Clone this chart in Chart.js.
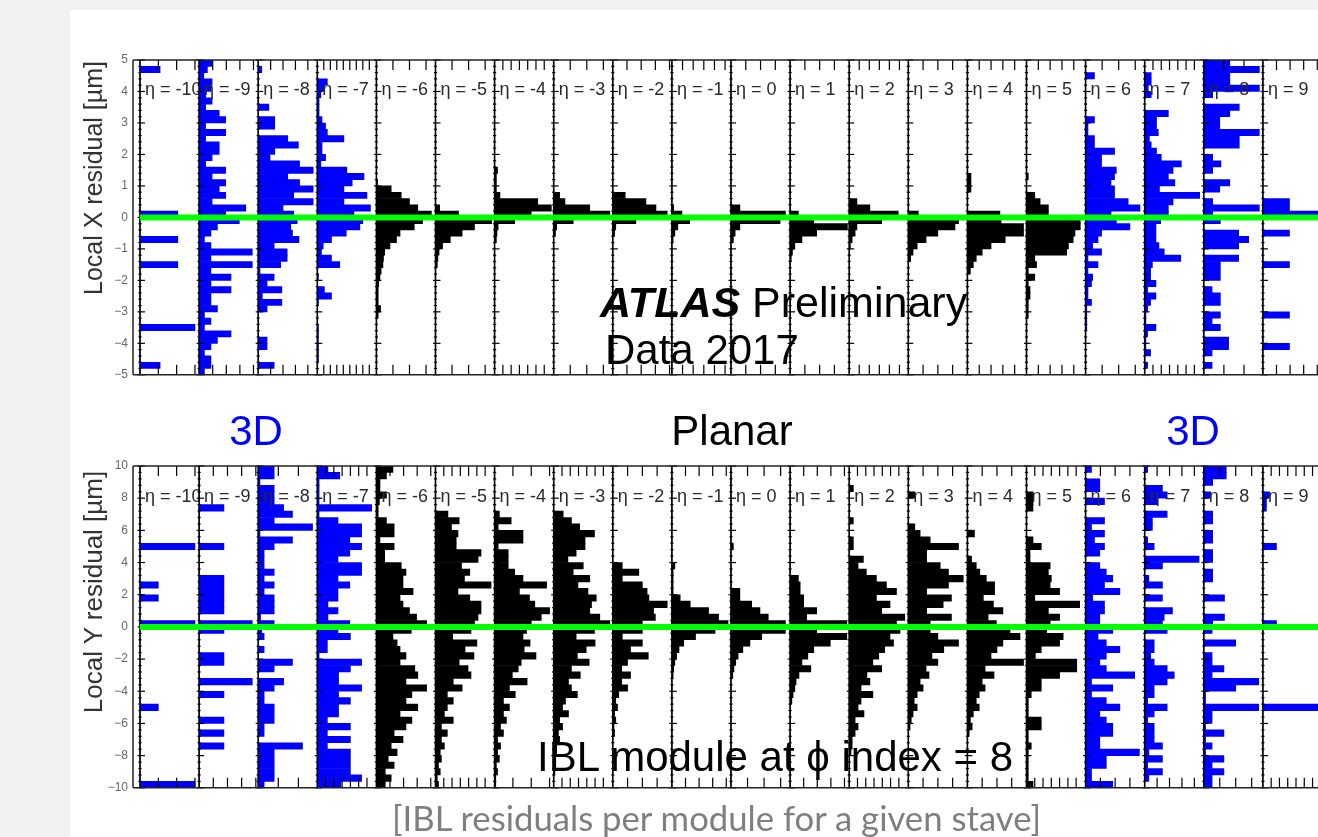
<!DOCTYPE html>
<html>
<head>
<meta charset="utf-8">
<script src="https://cdn.jsdelivr.net/npm/chart.js@4.4.0/dist/chart.umd.min.js"></script>
<style>
  html, body { margin: 0; padding: 0; width: 1318px; height: 837px; overflow: hidden; background: #f2f2f2; }
  body { position: relative; font-family: "Liberation Sans", Arial, sans-serif; }
  #sheet { position: absolute; left: 70px; top: 10px; width: 1248px; height: 827px; background: #fff; }
  .pane { position: absolute; left: 70px; width: 1262px; }
  #topPane { top: 40px; height: 347px; }
  #botPane { top: 446px; height: 354px; }
  .txt { position: absolute; white-space: nowrap; line-height: 1; color: #000; }
  .big { font-size: 42px; }
  .blue { color: #0000ff; }
  .ytitle { position: absolute; color: #333; white-space: nowrap; line-height: 1;
            transform: translate(-50%, -50%) rotate(-90deg); }
  #caption { position: absolute; left: 392px; top: 801px; font-family: Lato, "Open Sans", sans-serif;
             font-size: 34.7px; color: #7f7f7f; white-space: nowrap; line-height: 1; }
</style>
</head>
<body>
<div id="sheet"></div>
<div class="pane" id="topPane"><canvas id="topChart"></canvas></div>
<div class="pane" id="botPane"><canvas id="botChart"></canvas></div>

<div class="ytitle" style="left:93px; top:178px; font-size:25px;">Local X residual [µm]</div>
<div class="ytitle" style="left:93px; top:592px; font-size:26px;">Local Y residual [µm]</div>

<div class="txt" style="left:600px; top:281px; font-size:43px;"><b><i>ATLAS</i></b> Preliminary</div>
<div class="txt big" style="left:605px; top:329px;">Data 2017</div>
<div class="txt big blue" style="left:206px; width:100px; text-align:center; top:410px;">3D</div>
<div class="txt big" style="left:632px; width:200px; text-align:center; top:410px;">Planar</div>
<div class="txt big blue" style="left:1143px; width:100px; text-align:center; top:410px;">3D</div>
<div class="txt big" style="left:537px; top:736px;">IBL module at ϕ index = 8</div>
<div id="caption">[IBL residuals per module for a given stave]</div>

<script>
// module labels, left to right
const etaLabels = ["η = -10", "η = -9", "η = -8", "η = -7", "η = -6", "η = -5", "η = -4", "η = -3", "η = -2", "η = -1",
                   "η = 0", "η = 1", "η = 2", "η = 3", "η = 4", "η = 5", "η = 6", "η = 7", "η = 8", "η = 9"];
// sensor type of each module
const sensorType = ["3D", "3D", "3D", "3D", "Planar", "Planar", "Planar", "Planar", "Planar", "Planar",
                    "Planar", "Planar", "Planar", "Planar", "Planar", "Planar", "3D", "3D", "3D", "3D"];

// Local X residual histograms: 50 bins of 0.2 um, listed from +5 down to -5 (entries, 10 = full pad width)
const locX_m10 = [0,3.4,0,0,0,0,0,0,0,0, 0,0,0,0,0,0,0,0,0,0, 0,0,0,0,6.4,0,0,0,6.4,0, 0,0,6.4,0,0,0,0,0,0,0, 0,0,9.3,0,0,0,0,0,3.4,0];
const locX_m9 = [2.2,1.4,0.8,2.2,2,1.1,2.2,1.1,3.4,4.5, 1.1,4.5,1.1,3.4,3.4,2.2,1.1,4.5,2.2,4.5, 3.4,4.5,2.2,7.9,4.5,6.8,3.1,2,0.9,2, 9,2,9,2,5.4,2,5.4,2,2,3.1, 0.9,2,0.9,5.4,3.1,2,0.9,2,2,0.9];
const locX_m8 = [0,0.6,0,0,0,0,0,1.8,0,2.8, 2.8,0,5,6.8,2.8,2,7,9.3,5,7, 9.3,6,9.3,4.2,6,6.6,5.5,5.8,6.9,2.7, 4.9,4.9,3.8,0.3,2.7,1.5,4,0.7,4,1.5, 0,0,0,0,1.5,1.5,0,0,2.7,0];
const locX_m7 = [0,0,0,1.7,1.1,0.6,0.3,0.3,0.3,0.8, 1.4,1.7,4.5,0.8,0.8,1.4,0.6,5,7.9,5.9, 4.5,8.4,4.5,9,6.2,7.7,7.2,4.9,2.4,1, 0.7,2.4,3.8,0,0.2,0,1.2,2.4,0.2,0, 0,0,0.2,0.2,0.2,0.2,0.2,0.2,0,0];
const locX_m6 = [0,0,0,0,0,0,0,0,0,0, 0,0,0,0,0,0,0,0,0,0.2, 2.5,4.2,5.6,7,9.3,7.8,6.4,4,3.4,2.3, 1.4,1.2,1.1,0.8,0.6,0.4,0.3,0.3,0.3,0.7, 0.3,0,0,0,0,0,0,0,0,0];
const locX_m5 = [0,0,0,0,0,0,0,0,0,0, 0,0,0,0,0,0,0,0,0,0, 0,0,0,0.7,3.9,9.5,6.6,4.5,2.5,1.2, 0.6,0.4,0.3,0,0,0,0,0,0,0, 0,0,0,0,0,0,0,0,0,0];
const locX_m4 = [0,0,0,0,0,0,0,0,0,0, 0,0,0,0,0,0,0,0.5,0.3,0.3, 0.3,0.9,7.3,9.6,6.2,3.4,0.6,0.4,0.3,0, 0,0,0,0,0,0,0,0,0,0, 0,0,0,0,0,0,0,0,0,0];
const locX_m3 = [0,0,0,0,0,0,0,0,0,0, 0,0,0,0,0,0,0,0,0,0, 0,1,1.9,6.1,9.5,3.3,0.5,0.3,0,0, 0,0,0,0,0,0,0,0,0,0, 0,0,0,0,0,0,0,0,0,0];
const locX_m2 = [0,0,0,0,0,0,0,0,0,0, 0,0,0,0,0,0,0,0,0,0, 0,2.1,5.6,7.3,9.2,3.9,0.5,0.3,0,0, 0,0,0,0,0,0,0,0,0,0, 0,0,0,0,0,0,0,0,0,0];
const locX_m1 = [0,0,0,0,0,0,0,0,0,0, 0,0,0,0,0,0,0,0,0,0, 0,0,0,0.3,1.7,3,1,0.5,0.2,0, 0,0,0,0,0,0,0,0,0,0, 0,0,0,0,0,0,0,0,0,0];
const locX_0 = [0,0,0,0,0,0,0,0,0,0, 0,0,0,0,0,0,0,0,0,0, 0,0,0,1.5,9.2,8.3,1.5,0.7,0.4,0, 0,0,0,0,0,0,0,0,0,0, 0,0,0,0,0,0,0,0,0,0];
const locX_p1 = [0,0,0,0,0,0,0,0,0,0, 0,0,0,0,0,0,0,0,0,0, 0,0,0,0,1.4,4,9.7,4.5,2,0.8, 0.4,0.2,0,0,0,0,0,0,0,0, 0,0,0,0,0,0,0,0,0,0];
const locX_p2 = [0,0,0,0,0,0,0,0,0,0, 0,0,0,0,0,0,0,0,0,0, 0,0,1.3,3.5,8.3,5.5,1.3,1,0.5,0.2, 0,0,0,0,0,0,0,0,0,0, 0,0,0,0,0,0,0,0,0,0];
const locX_p3 = [0,0,0,0,0,0,0,0,0,0, 0,0,0,0,0,0,0,0,0,0, 0,0,0,0,1.7,8.5,7.9,5,3,1.5, 0.8,0.4,0,0,0,0,0,0,0,0, 0,0,0,0,0,0,0,0,0,0];
const locX_p4 = [0,0,0,0,0,0,0,0,0,0, 0,0,0,0,0,0,0,0,0.6,0.6, 0.6,0,0,0,5.5,5.7,9.5,9.5,6.4,4, 2.5,1.5,1,0.5,0,0,0,0,0,0, 0,0,0,0,0,0,0,0,0,0];
const locX_p5 = [0,0,0,0,0,0,0,0,0,0, 0,0,0,0,0,0,0,0,0.3,0, 0,1.4,2.3,3.7,3.7,9.1,9.1,8.2,7.9,7.1, 6.8,1.4,1.7,0.3,1.4,0.3,0.6,0.6,0.3,0.3, 0.3,0,0,0,0,0,0,0,0,0];
const locX_p6 = [0,0,1.5,0,0,0,0,0,0,1.5, 0.4,0.4,1.5,1.5,4.9,2.7,2.7,5.2,4.9,4.3, 4.9,4.9,7.2,9.2,4.3,5.2,7.5,2.7,2.1,1.2, 2.7,0.4,2.1,0.4,1.2,1,0.4,0.4,1,0.2, 0.2,0.2,0.2,0,0,0,0,0,0,0];
const locX_p7 = [0,0,1.1,1.1,0.6,1.1,0,0,4,2, 2,2.3,0.8,1.1,2,2.8,6.2,4.8,4,5.1, 2.5,9.3,4.8,4,4,2.7,1.9,1.9,1.9,2.4, 3.3,6.1,1.3,1,1,1.9,0.5,1.9,1,0.5, 0.2,0.2,1.9,0.5,0.2,0.2,1,0,0.5,0];
const locX_p8 = [4.4,9.4,4.4,4.4,9.4,1.5,0,6,4.4,2.7, 2.7,9.4,6,6,0,1.5,2.9,1.5,0,4.4, 2.7,0,1.5,9.4,1.5,2.8,0,5.9,7.6,5.9, 0,5.9,2.8,2.8,2.8,0,1.4,2.8,2.8,0, 2.8,1.4,2.8,0,4.2,4.2,1.4,0,1.4,0];
const locX_p9 = [0,0,0,0,0,0,0,0,0,0, 0,0,0,0,0,0,0,0,0,0, 0,0,4.5,4.5,10,0,0,4.5,0,0, 0,0,4.5,0,0,0,0,0,0,0, 4.5,0,0,0,0,4.5,0,0,0,0];

// Local Y residual histograms: 50 bins of 0.4 um, listed from +10 down to -10
const locY_m10 = [0,0,0,0,0,0,0,0,0,0, 0,0,9.3,0,0,0,0,0,3.1,0, 3.1,0,0,0,9.3,0,0,0,0,0, 0,0,0,0,0,0,0,3.1,0,0, 0,0,0,0,0,0,0,0,0,9.3];
const locY_m9 = [0,0,0,0,0,0,4.2,0,0,0, 0,0,4.2,0,0,0,0,4.2,4.2,4.2, 4.2,4.2,4.2,0,9,4.2,0,0,0,4.2, 4.2,0,0,9,0,4.2,0,0,0,4.2, 0,4.2,0,4.2,0,0,0,0,0,0];
const locY_m8 = [2.7,2.7,0.3,2.7,2.7,2.7,4.3,5.8,2.7,9.2, 0.3,5.8,2.7,1,1,1,2.7,1,2.7,1, 2.7,2.7,2.7,0.4,2.7,0.6,1,0,1,0, 5.8,2.7,0,4.3,2.7,1,1,2.7,2.7,2.7, 1,1,0,7.5,2.7,2.7,2.7,2.7,2.7,1];
const locY_m7 = [1.8,3.8,0.3,0.3,0.3,0.3,9.2,0.3,3.5,7.5, 7.5,5.5,7.5,5.5,3.5,7.5,7.5,3.5,5.5,3.5, 3.5,1.8,3.5,1.8,5.5,3.5,5.6,1.7,1.7,0.3, 7.5,5.6,3.6,3.6,7.5,3.6,5.6,3.6,3.6,1.7, 5.6,1.7,5.6,1.7,5.6,5.6,5.6,5.6,7.5,4];
const locY_m6 = [2.8,1.7,0.6,0.6,1.7,0.5,0.3,0.3,1.7,3, 3,0.6,3,1.4,1.4,4.2,5,4.5,4.5,6.2, 4,4.5,5.6,6.8,8.5,5.9,2.8,3.5,4,5, 4,6.5,7,5,8.5,6,5,7,4,6, 5,3,4.5,2.5,3.5,2,3,1.5,2.5,1.5];
const locY_m5 = [0,0,0,0,0,0,0,2.1,4,2.7, 3.8,3.5,3.5,7.7,7.2,4.4,5.8,4.9,9.4,3.8, 5.8,7.7,7.7,7.2,6.6,6,2.9,7,5,6.5, 4,5.5,6,3,4.5,2,3,2,1.5,3, 1,2,1,1.5,0.8,1,0.5,0.8,0.3,0.5];
const locY_m4 = [0,0,0,0,0,0,0,0.8,2.8,0.6, 4.8,4.8,0.6,2.3,2.3,2.3,3.4,4.8,8.8,4.2, 5.9,6.8,9.3,7.9,6.2,5.4,4.8,6,5,7, 4.5,4,3,5.5,2.5,3.5,1.5,2.5,1.5,2, 1,1.5,0.5,1,0.5,0.8,0.3,0.5,0.2,0.2];
const locY_m3 = [0,0,0,0,0,0,0,1.6,3,4.4, 6.9,5.3,5.3,3.8,2.4,5,3.3,6.1,4.1,5.8, 7.2,6.4,6.1,7.8,9.5,6.9,3.8,7,5.5,4, 6,3,4.5,2.5,3,4,2,1.5,2.5,1, 1.5,0.8,1,0.5,0.5,0.3,0.3,0.2,0,0];
const locY_m2 = [0,0,0,0,0,0,0,0,0,0, 0,0,0,0,0,1.6,4.4,1.6,5,5.8, 6.1,9.2,6.9,7.2,5,5,1.6,5,3,6, 2.5,1.5,3,1.5,2.5,1,0.5,0.8,0.3,0.5, 0.2,0.3,0,0,0,0,0,0,0,0];
const locY_m1 = [0,0,0,0,0,0,0,0,0,0, 0,0,0,0,0,0.5,0.2,0.2,0.2,0.2, 1.4,3.1,6.2,7.9,9.5,7.3,4,2,1.2,0.8, 0.5,0.3,0.2,0,0,0,0,0,0,0, 0,0,0,0,0,0,0,0,0,0];
const locY_0 = [0,0,0,0,0,0,0,0,0,0, 0,0,0.4,0,0,0,0,0,0,1.5, 1.5,3.5,4.9,6.3,9.2,9.2,5.2,3.2,2,1.2, 0.8,0.5,0.3,0,0,0,0,0,0,0, 0,0,0,0,0,0,0,0,0,0];
const locY_p1 = [0,0,0,0,0,0,0,0,0,0, 0,0,0,0,0,0,0,1.4,1.7,1.7, 2.3,2.3,4.5,2.8,9.6,4.5,9.6,6.8,4,3, 2,3.5,1.5,1,0.8,0.5,0.3,0,0,0, 0,0,0,0,0,0,0,0,0,0];
const locY_p2 = [0,0,0,0.7,0,0,0,0,0.7,0, 0,0.7,0.7,0,2.4,1.5,2.9,4.6,6.3,8, 4.6,6.9,5.5,9.4,8,8.6,6.9,7.5,6,5, 4,5.5,3,3.5,2,4,2,1.5,2.5,1, 1.5,1,0.5,0.5,0.3,0,0,0,0,0];
const locY_p3 = [0,0,0,0,1.1,0,0,0,0,1.1, 2,3.7,8.5,3.1,3.1,5.4,6.8,9.3,6.8,3.1, 7.3,5.9,3.1,7.3,3.7,3.7,5,8.5,6,4, 5,3,3.5,2,2.5,1.5,1,1.5,0.8,0.5, 0.3,0,0,0,0,0,0,0,0,0];
const locY_p4 = [0,0,0,0,0,0,0,0,0,0, 1.2,0,0,0,0.7,1.5,2.1,3.2,4.6,4.6, 2.7,4.4,6,3.5,4.9,7.2,8.9,6,5,4, 9.5,3,4.5,2.5,3,2,1.5,2,1,0.5, 0.8,0.3,0,0,0,0,0,0,0,0];
const locY_p5 = [0,0,0,0,1.1,1.1,1.1,0,0,0, 0,1.1,2.5,0.6,0.6,4,3.7,4.2,4,5.6, 1.4,9,3.7,5.6,4,3.4,6.2,5.6,2.5,1.5, 8.5,8.5,5.6,2.5,2.5,0.8,0.3,0.3,0.3,2.5, 2.5,0.3,0.3,0.8,0.3,0.3,0.3,0.3,0.3,1.1];
const locY_p6 = [1,0,2.4,2.4,0,3.2,0,0,3.2,1, 3.2,1.5,3.2,2.4,0,2.4,3.5,4.6,3.2,5.8, 1.2,3.2,3.2,2.4,2.4,4.6,2.1,3.5,5.8,3.5, 2.4,3.5,8.3,1,4.6,1,3.5,5.8,2.4,3.5, 4.6,4.6,2.4,2.4,9.1,3.5,3.5,1,1,4.6];
const locY_p7 = [0.5,0,0,3,3.8,2.1,0,3.8,1.3,1.3, 0,0.5,1.6,0,9.2,3,0,0.7,3,0, 3,0,4.7,3.3,3,3.8,0,1.6,1.6,1, 1.6,3.8,5,3.8,1.6,1.6,0.5,3.8,1.6,0.5, 1.6,1.6,1.6,3,0.7,3,0.5,3,0.7,0];
const locY_p8 = [3.8,3.8,1.5,0,1.2,0,0,1.5,1.5,0, 1.5,1.5,0,1.5,1.5,0,1.5,1.5,0,0, 3.5,0,0,3.5,1.5,1.4,0,5.4,0,1.4, 1.4,3.4,1.4,9.3,5.4,0.3,0.3,9.3,1.4,1.4, 0.3,3.4,0.3,1.4,0.3,3.4,1.4,3.4,1.4,1.4];
const locY_p9 = [0,0,0,0,1.1,0.6,0.6,0,0,0, 0,0,2.3,0,0,0,0,0,0,0, 0,0,0,0,2.3,0,0,0,0,0, 0,0,0,0,0,0,0,10,0,0, 0,0,0,0,0,0,0,0,0,0];

const locXSeries = [locX_m10, locX_m9, locX_m8, locX_m7, locX_m6, locX_m5, locX_m4, locX_m3, locX_m2, locX_m1,
                    locX_0, locX_p1, locX_p2, locX_p3, locX_p4, locX_p5, locX_p6, locX_p7, locX_p8, locX_p9];
const locYSeries = [locY_m10, locY_m9, locY_m8, locY_m7, locY_m6, locY_m5, locY_m4, locY_m3, locY_m2, locY_m1,
                    locY_0, locY_p1, locY_p2, locY_p3, locY_p4, locY_p5, locY_p6, locY_p7, locY_p8, locY_p9];

// pad x-axis tick spacing (in entries) for each module
const xTickTop = [3.1, 2.3, 2.1, 1.1, 2.8, 2.8, 1.4, 2.8, 2.4, 1.8, 2.5, 2.5, 1.7, 2.5, 2, 2, 2.8, 1.4, 3.4, 2.3];
const xTickBot = [3.1, 2.4, 3.4, 1.4, 2.3, 1.4, 3.1, 1.4, 2.5, 2.3, 2.8, 2.3, 1.4, 2.5, 2.5, 1.4, 2.5, 2.1, 2.7, 1.4];

const PAD_W = 59.1;   // px per module pad
const colour3D = "#0000ff";
const colourPlanar = "#000000";

function makeDatasets(series, top, binW) {
  return series.map((vals, c) => ({
    data: vals.map((v, i) => ({ y: top - binW * (i + 0.5), x: [c, c + v / 10] })),
    backgroundColor: sensorType[c] === "3D" ? colour3D : colourPlanar,
    borderWidth: 0,
    grouped: false,
    barPercentage: 1,
    categoryPercentage: 1
  }));
}

function seg(ctx, x0, y0, x1, y1) {
  ctx.beginPath();
  ctx.moveTo(x0, y0);
  ctx.lineTo(x1, y1);
  ctx.stroke();
}

// ROOT-like pad decorations: pad axes, inward ticks, eta labels, green zero line, frame
const padDecor = {
  id: "padDecor",
  afterDatasetsDraw(chart) {
    const o = chart.options.plugins.padDecor;
    const { ctx, chartArea: a, scales: { x, y } } = chart;
    ctx.save();

    ctx.font = '18px "Liberation Sans", Arial, sans-serif';
    ctx.fillStyle = "#2a2a2a";
    ctx.textBaseline = "middle";
    etaLabels.forEach((t, c) => {
      const x0 = x.getPixelForValue(c), x1 = x.getPixelForValue(c + 1);
      ctx.save();
      ctx.beginPath();
      ctx.rect(x0, a.top, x1 - x0, a.bottom - a.top);
      ctx.clip();
      ctx.fillText(t, x0 + 5, y.getPixelForValue(o.labelAt));
      ctx.restore();
    });

    ctx.strokeStyle = "#000";
    for (let c = 0; c < etaLabels.length; c++) {
      const x0 = x.getPixelForValue(c);
      ctx.lineWidth = 1.6;
      seg(ctx, x0, a.top, x0, a.bottom);
      ctx.lineWidth = 1.2;
      for (let v = o.min; v <= o.max + 1e-6; v += o.minor) {
        const py = y.getPixelForValue(v);
        const major = Math.abs(v / o.major - Math.round(v / o.major)) < 1e-6;
        seg(ctx, x0 - (major ? 2.5 : 1.6), py, x0 + (major ? 5 : 1.6), py);
      }
      const st = o.steps[c];
      for (let k = st; k < 9.7; k += st) {
        const px = x.getPixelForValue(c + k / 10);
        seg(ctx, px, a.top, px, a.top + 10);
        seg(ctx, px, a.bottom, px, a.bottom - 10);
      }
    }

    // zero line
    ctx.strokeStyle = "#00ff00";
    ctx.lineWidth = 6;
    const gy = y.getPixelForValue(0);
    seg(ctx, x.getPixelForValue(0), gy, a.right, gy);

    // frame
    ctx.strokeStyle = "#222";
    ctx.lineWidth = 1.5;
    seg(ctx, a.left, a.top, a.right, a.top);
    seg(ctx, a.left, a.bottom, a.right, a.bottom);
    seg(ctx, a.left, a.top, a.left, a.bottom);
    ctx.restore();
  }
};

function makeChart(id, series, lim, binW, tickStep, steps, labelAt) {
  return new Chart(document.getElementById(id), {
    type: "bar",
    data: { datasets: makeDatasets(series, lim, binW) },
    plugins: [padDecor],
    options: {
      indexAxis: "y",
      animation: false,
      responsive: true,
      maintainAspectRatio: false,
      layout: { padding: { top: 20, bottom: 10, left: 0, right: 10 } },
      plugins: {
        legend: { display: false },
        tooltip: { enabled: false },
        padDecor: { min: -lim, max: lim, minor: binW, major: tickStep, steps: steps, labelAt: labelAt }
      },
      scales: {
        x: { type: "linear", display: false, min: -7 / PAD_W, max: etaLabels.length },
        y: {
          type: "linear", position: "left", min: -lim, max: lim, offset: false,
          afterFit: (s) => { s.width = 63; },
          grid: { display: false, drawTicks: false },
          border: { display: false },
          ticks: {
            stepSize: tickStep, padding: 5, color: "#666",
            font: { size: 12, family: '"Liberation Sans", Arial, sans-serif' },
            callback: (v) => String(v).replace("-", "\u2212")
          }
        }
      }
    }
  });
}

makeChart("topChart", locXSeries, 5, 0.2, 1, xTickTop, 4.05);
makeChart("botChart", locYSeries, 10, 0.4, 2, xTickBot, 8.09);
</script>
</body>
</html>
